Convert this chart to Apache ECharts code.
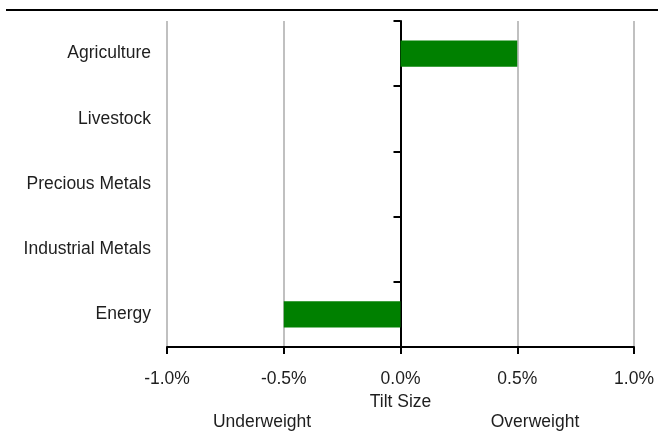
<!DOCTYPE html>
<html>
<head>
<meta charset="utf-8">
<script src="https://cdn.jsdelivr.net/npm/echarts@6/dist/echarts.min.js"></script>
<style>
  html, body { margin: 0; padding: 0; background: #fff; }
  #chart { width: 658px; height: 432px; }
</style>
</head>
<body>
<div id="chart"></div>
<script>
var categories = ['Agriculture', 'Livestock', 'Precious Metals', 'Industrial Metals', 'Energy'];
var tiltValues = [0.5, 0, 0, 0, -0.5];
var xTicks = { min: -1, max: 1, interval: 0.5 };
var axisTitle = 'Tilt Size';
var sideLabels = ['Underweight', 'Overweight'];

var FONT = "'Liberation Sans', Arial, sans-serif";
var FS = 17.5;
var TXT = '#1e1e1e';

var chart = echarts.init(document.getElementById('chart'), null, { renderer: 'canvas' });
chart.setOption({
  animation: false,
  backgroundColor: '#ffffff',
  textStyle: { fontFamily: FONT },
  grid: { left: 167, right: 24, top: 21, bottom: 85, containLabel: false },
  xAxis: {
    type: 'value',
    min: xTicks.min, max: xTicks.max, interval: xTicks.interval,
    name: axisTitle,
    nameLocation: 'middle',
    nameGap: 41,
    nameTextStyle: { fontFamily: FONT, fontSize: FS, color: TXT },
    axisLine: { show: true, onZero: false, lineStyle: { color: '#000', width: 2 } },
    axisTick: { show: true, length: 7, lineStyle: { color: '#000', width: 2 } },
    axisLabel: {
      fontFamily: FONT, fontSize: FS, color: TXT, margin: 23,
      formatter: function (v) { return v.toFixed(1) + '%'; }
    },
    splitLine: { show: true, lineStyle: { color: '#c0c0c0', width: 2 } }
  },
  yAxis: [
    {
      type: 'category',
      data: categories,
      inverse: true,
      position: 'left',
      axisLine: { show: false, onZero: false },
      axisTick: { show: false },
      axisLabel: { fontFamily: FONT, fontSize: FS, color: TXT, margin: 16 },
      splitLine: { show: false }
    },
    {
      type: 'category',
      data: categories,
      inverse: true,
      position: 'left',
      axisLine: { show: true, onZero: true, lineStyle: { color: '#000', width: 2 } },
      axisTick: { show: true, length: 7, lineStyle: { color: '#000', width: 2 } },
      axisLabel: { show: false },
      splitLine: { show: false }
    }
  ],
  graphic: [
    { type: 'line', shape: { x1: 6, y1: 10, x2: 658, y2: 10 }, style: { stroke: '#000', lineWidth: 2 } },
    { type: 'text', x: 262, y: 422, style: { text: sideLabels[0], font: FS + 'px ' + FONT, fill: TXT, textAlign: 'center', textVerticalAlign: 'middle' } },
    { type: 'text', x: 535, y: 422, style: { text: sideLabels[1], font: FS + 'px ' + FONT, fill: TXT, textAlign: 'center', textVerticalAlign: 'middle' } }
  ],
  series: [{
    type: 'bar',
    data: tiltValues,
    yAxisIndex: 0,
    barWidth: '40%',
    itemStyle: { color: '#008000' }
  }]
});
</script>
</body>
</html>
